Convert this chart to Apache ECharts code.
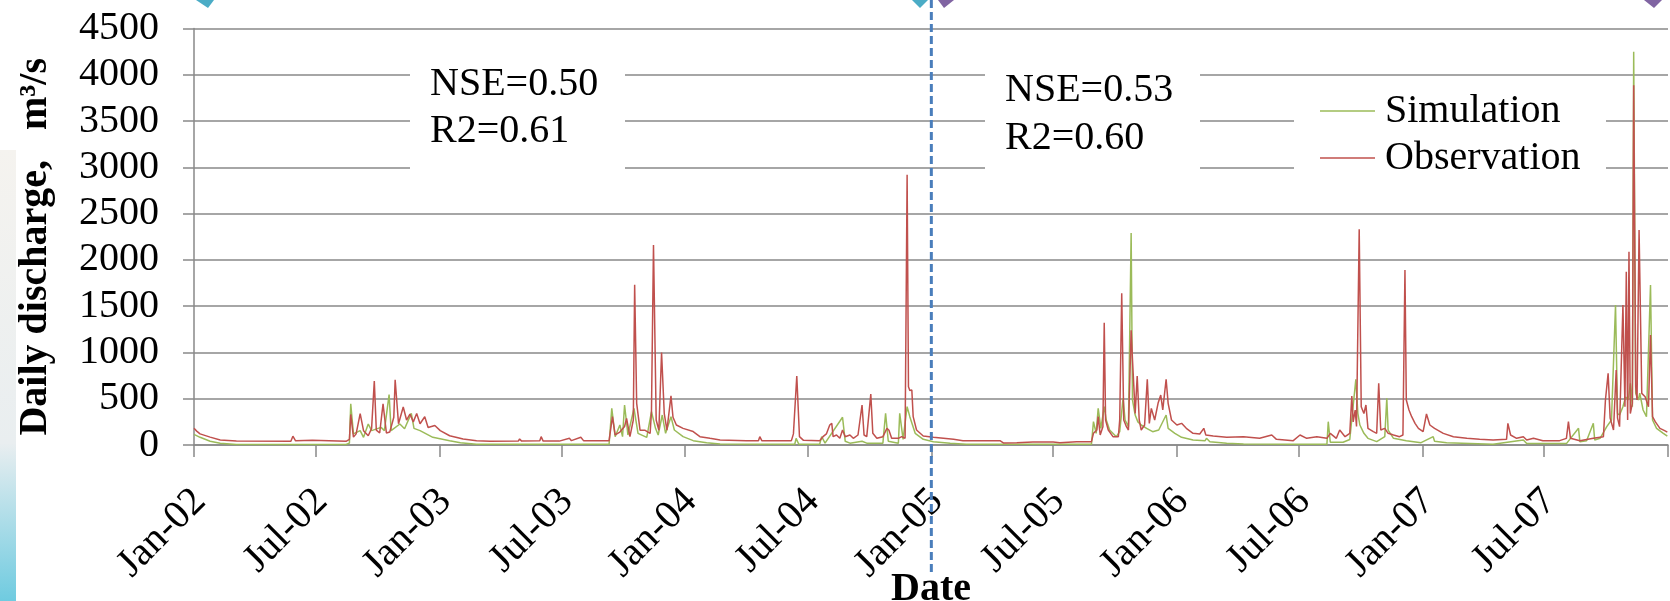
<!DOCTYPE html>
<html>
<head>
<meta charset="utf-8">
<title>Daily discharge</title>
<script src="https://cdn.jsdelivr.net/npm/echarts@6/dist/echarts.min.js"></script>
<style>
  html, body { margin: 0; padding: 0; background: #fff; }
  #chart { width: 1670px; height: 601px; }
</style>
</head>
<body>
<div id="chart"></div>
<script>
var obs2002 = [
  ['2002-01-01', 180], ['2002-01-05', 150], ['2002-01-10', 120], ['2002-01-25', 85], ['2002-02-09', 55],
  ['2002-03-05', 42], ['2002-05-25', 40], ['2002-05-28', 95], ['2002-06-01', 45], ['2002-06-26', 50],
  ['2002-06-28', 40], ['2002-08-15', 40], ['2002-08-20', 60], ['2002-08-22', 330], ['2002-08-26', 85],
  ['2002-08-30', 120], ['2002-09-05', 340], ['2002-09-10', 155], ['2002-09-17', 100], ['2002-09-22', 180],
  ['2002-09-26', 690], ['2002-09-29', 160], ['2002-10-04', 130], ['2002-10-09', 445], ['2002-10-14', 130],
  ['2002-10-19', 140], ['2002-10-25', 300], ['2002-10-27', 705], ['2002-11-01', 230], ['2002-11-08', 410],
  ['2002-11-13', 270], ['2002-11-18', 335], ['2002-11-23', 250], ['2002-11-28', 340], ['2002-12-03', 230],
  ['2002-12-10', 305], ['2002-12-15', 190], ['2002-12-25', 210]
];
var obs2003 = [
  ['2003-01-02', 155], ['2003-01-16', 100], ['2003-02-05', 65], ['2003-02-25', 47], ['2003-03-17', 40],
  ['2003-04-28', 42], ['2003-04-30', 65], ['2003-05-03', 42], ['2003-05-30', 45], ['2003-06-01', 90],
  ['2003-06-04', 42], ['2003-06-28', 42], ['2003-07-13', 72], ['2003-07-16', 47], ['2003-07-30', 83],
  ['2003-08-03', 47], ['2003-09-10', 47], ['2003-09-15', 306], ['2003-09-19', 110], ['2003-09-26', 140],
  ['2003-10-03', 200], ['2003-10-06', 288], ['2003-10-11', 90], ['2003-10-16', 270], ['2003-10-18', 1730],
  ['2003-10-21', 450], ['2003-10-26', 160], ['2003-11-02', 160], ['2003-11-10', 125], ['2003-11-12', 360],
  ['2003-11-15', 2160], ['2003-11-19', 270], ['2003-11-23', 160], ['2003-11-27', 1000], ['2003-12-01', 340],
  ['2003-12-05', 160], ['2003-12-11', 530], ['2003-12-14', 300], ['2003-12-19', 216], ['2003-12-29', 180]
];
var obs2004 = [
  ['2004-01-13', 145], ['2004-01-23', 90], ['2004-02-07', 72], ['2004-02-22', 55], ['2004-04-01', 47],
  ['2004-04-19', 47], ['2004-04-21', 90], ['2004-04-24', 47], ['2004-06-07', 47], ['2004-06-10', 120],
  ['2004-06-15', 745], ['2004-06-19', 90], ['2004-06-25', 50], ['2004-07-19', 47], ['2004-07-24', 90],
  ['2004-07-29', 120], ['2004-08-03', 216], ['2004-08-06', 234], ['2004-08-08', 90], ['2004-08-13', 108],
  ['2004-08-18', 72], ['2004-08-22', 162], ['2004-08-26', 90], ['2004-09-02', 108], ['2004-09-07', 72],
  ['2004-09-14', 108], ['2004-09-20', 432], ['2004-09-23', 108], ['2004-09-27', 90], ['2004-10-03', 550],
  ['2004-10-06', 126], ['2004-10-12', 72], ['2004-10-21', 90], ['2004-10-27', 180], ['2004-10-30', 160],
  ['2004-11-03', 72], ['2004-11-13', 72], ['2004-11-18', 90], ['2004-11-23', 72], ['2004-11-26', 2920],
  ['2004-11-28', 630], ['2004-11-30', 590], ['2004-12-03', 594], ['2004-12-05', 306], ['2004-12-10', 162],
  ['2004-12-20', 97]
];
var obs2005 = [
  ['2005-01-04', 83], ['2005-01-19', 72], ['2005-02-03', 61], ['2005-02-17', 47], ['2005-04-13', 47],
  ['2005-04-18', 22], ['2005-05-08', 25], ['2005-06-01', 32], ['2005-07-01', 32], ['2005-07-11', 25],
  ['2005-08-05', 36], ['2005-08-27', 36], ['2005-08-30', 126], ['2005-09-04', 162], ['2005-09-06', 306],
  ['2005-09-09', 108], ['2005-09-13', 198], ['2005-09-15', 1320], ['2005-09-17', 270], ['2005-09-21', 162],
  ['2005-09-28', 90], ['2005-10-06', 90], ['2005-10-08', 270], ['2005-10-11', 1640], ['2005-10-14', 270],
  ['2005-10-18', 198], ['2005-10-21', 162], ['2005-10-25', 1240], ['2005-10-27', 920], ['2005-10-31', 342],
  ['2005-11-03', 745], ['2005-11-06', 270], ['2005-11-09', 162], ['2005-11-14', 216], ['2005-11-18', 710],
  ['2005-11-21', 234], ['2005-11-24', 396], ['2005-11-29', 270], ['2005-12-04', 450], ['2005-12-08', 540],
  ['2005-12-11', 380], ['2005-12-16', 710], ['2005-12-19', 450], ['2005-12-24', 270]
];
var obs2006 = [
  ['2006-01-01', 216], ['2006-01-08', 234], ['2006-01-15', 180], ['2006-01-25', 126], ['2006-02-04', 119],
  ['2006-02-10', 180], ['2006-02-13', 108], ['2006-02-24', 97], ['2006-03-16', 83], ['2006-04-10', 90],
  ['2006-05-04', 72], ['2006-05-22', 108], ['2006-05-29', 61], ['2006-06-23', 47], ['2006-07-03', 108],
  ['2006-07-13', 72], ['2006-07-28', 90], ['2006-08-12', 72], ['2006-08-17', 126], ['2006-08-26', 72],
  ['2006-08-31', 162], ['2006-09-08', 90], ['2006-09-15', 126], ['2006-09-18', 529], ['2006-09-20', 250],
  ['2006-09-23', 378], ['2006-09-25', 200], ['2006-09-29', 2330], ['2006-10-02', 414], ['2006-10-06', 340],
  ['2006-10-09', 432], ['2006-10-12', 180], ['2006-10-20', 144], ['2006-10-25', 126], ['2006-10-28', 666],
  ['2006-10-31', 162], ['2006-11-06', 180], ['2006-11-11', 126], ['2006-11-19', 108], ['2006-11-28', 90],
  ['2006-12-03', 108], ['2006-12-06', 1890], ['2006-12-08', 486], ['2006-12-12', 378], ['2006-12-16', 306],
  ['2006-12-21', 234], ['2006-12-26', 180]
];
var obs2007 = [
  ['2007-01-02', 144], ['2007-01-07', 335], ['2007-01-12', 216], ['2007-01-19', 180], ['2007-02-01', 126],
  ['2007-02-16', 90], ['2007-03-08', 72], ['2007-03-27', 61], ['2007-04-16', 54], ['2007-05-06', 61],
  ['2007-05-08', 234], ['2007-05-12', 108], ['2007-05-21', 72], ['2007-05-31', 90], ['2007-06-05', 54],
  ['2007-06-15', 72], ['2007-06-29', 47], ['2007-07-24', 47], ['2007-08-03', 72], ['2007-08-06', 252],
  ['2007-08-09', 72], ['2007-08-23', 47], ['2007-09-12', 72], ['2007-09-27', 90], ['2007-09-30', 486],
  ['2007-10-04', 774], ['2007-10-07', 290], ['2007-10-12', 162], ['2007-10-16', 810], ['2007-10-18', 290],
  ['2007-10-21', 198], ['2007-10-26', 1512], ['2007-10-29', 414], ['2007-10-31', 1872], ['2007-11-02', 270],
  ['2007-11-04', 2088], ['2007-11-06', 340], ['2007-11-09', 450], ['2007-11-11', 3888], ['2007-11-14', 630],
  ['2007-11-16', 486], ['2007-11-19', 2322], ['2007-11-23', 558], ['2007-11-28', 522], ['2007-12-03', 414],
  ['2007-12-06', 1188], ['2007-12-09', 306], ['2007-12-13', 252], ['2007-12-20', 180], ['2007-12-27', 155],
  ['2007-12-31', 140]
];

// simulated daily discharge (m3/s)
var sim2002 = [
  ['2002-01-01', 115], ['2002-01-10', 83], ['2002-01-25', 40], ['2002-02-09', 18], ['2002-03-05', 6],
  ['2002-08-15', 5], ['2002-08-20', 20], ['2002-08-22', 445], ['2002-08-26', 120], ['2002-09-05', 155],
  ['2002-09-10', 83], ['2002-09-17', 227], ['2002-09-22', 155], ['2002-10-06', 190], ['2002-10-11', 155],
  ['2002-10-18', 545], ['2002-10-21', 155], ['2002-11-03', 227], ['2002-11-10', 175], ['2002-11-20', 342],
  ['2002-11-24', 180], ['2002-12-03', 155], ['2002-12-22', 83]
];
var sim2003 = [
  ['2003-01-16', 47], ['2003-02-01', 25], ['2003-02-25', 8], ['2003-09-10', 8], ['2003-09-14', 396],
  ['2003-09-19', 90], ['2003-09-26', 216], ['2003-09-30', 90], ['2003-10-03', 432], ['2003-10-08', 108],
  ['2003-10-17', 396], ['2003-10-23', 126], ['2003-11-05', 83], ['2003-11-12', 360], ['2003-11-18', 180],
  ['2003-11-22', 108], ['2003-11-28', 324], ['2003-12-03', 126], ['2003-12-11', 306], ['2003-12-16', 162],
  ['2003-12-29', 90]
];
var sim2004 = [
  ['2004-01-13', 47], ['2004-02-02', 25], ['2004-02-22', 10], ['2004-06-12', 8], ['2004-06-14', 72],
  ['2004-06-18', 8], ['2004-07-19', 8], ['2004-07-22', 90], ['2004-07-27', 20], ['2004-08-22', 300],
  ['2004-08-26', 40], ['2004-09-02', 20], ['2004-09-20', 40], ['2004-09-27', 20], ['2004-10-21', 20],
  ['2004-10-25', 342], ['2004-10-29', 40], ['2004-11-13', 20], ['2004-11-15', 342], ['2004-11-20', 60],
  ['2004-11-26', 414], ['2004-11-30', 306], ['2004-12-08', 126], ['2004-12-20', 61]
];
var sim2005 = [
  ['2005-01-04', 36], ['2005-01-29', 18], ['2005-02-22', 7], ['2005-08-27', 7], ['2005-08-30', 252],
  ['2005-09-03', 126], ['2005-09-06', 396], ['2005-09-10', 180], ['2005-09-15', 414], ['2005-09-18', 270],
  ['2005-09-23', 162], ['2005-10-03', 90], ['2005-10-08', 144], ['2005-10-13', 504], ['2005-10-16', 270],
  ['2005-10-21', 198], ['2005-10-25', 2290], ['2005-10-27', 486], ['2005-10-31', 324], ['2005-11-04', 250],
  ['2005-11-09', 216], ['2005-11-17', 180], ['2005-11-26', 144], ['2005-12-05', 162], ['2005-12-16', 324],
  ['2005-12-19', 180], ['2005-12-29', 126]
];
var sim2006 = [
  ['2006-01-08', 83], ['2006-01-25', 54], ['2006-02-12', 47], ['2006-02-14', 72], ['2006-02-19', 36],
  ['2006-03-16', 18], ['2006-04-10', 10], ['2006-06-23', 7], ['2006-08-12', 7], ['2006-08-14', 252],
  ['2006-08-17', 30], ['2006-09-05', 30], ['2006-09-15', 60], ['2006-09-24', 710], ['2006-09-27', 342],
  ['2006-09-30', 216], ['2006-10-06', 126], ['2006-10-12', 72], ['2006-10-25', 36], ['2006-11-06', 90],
  ['2006-11-09', 504], ['2006-11-11', 160], ['2006-11-19', 72], ['2006-12-08', 47], ['2006-12-30', 25]
];
var sim2007 = [
  ['2007-01-17', 90], ['2007-01-19', 40], ['2007-02-06', 25], ['2007-04-16', 7], ['2007-05-31', 54],
  ['2007-06-05', 15], ['2007-08-03', 15], ['2007-08-21', 180], ['2007-08-23', 36], ['2007-09-02', 47],
  ['2007-09-12', 234], ['2007-09-14', 54], ['2007-09-22', 72], ['2007-10-02', 198], ['2007-10-09', 270],
  ['2007-10-15', 1512], ['2007-10-18', 340], ['2007-10-21', 324], ['2007-10-26', 414], ['2007-10-30', 520],
  ['2007-11-03', 486], ['2007-11-06', 666], ['2007-11-09', 414], ['2007-11-11', 4250], ['2007-11-14', 560],
  ['2007-11-18', 486], ['2007-11-20', 560], ['2007-11-25', 378], ['2007-11-30', 306], ['2007-12-06', 1728],
  ['2007-12-09', 270], ['2007-12-15', 180], ['2007-12-25', 126], ['2007-12-31', 95]
];

var tickDates = ['2002-01-01', '2002-07-01', '2003-01-01', '2003-07-01', '2004-01-01', '2004-07-01',
  '2005-01-01', '2005-07-01', '2006-01-01', '2006-07-01', '2007-01-01', '2007-07-01', '2008-01-01'];
var labelDates = tickDates.slice(0, 12);
var splitDate = '2005-01-01';
var calibStats = ['NSE=0.50', 'R2=0.61'];
var validStats = ['NSE=0.53', 'R2=0.60'];

var MONTHS = ['Jan', 'Feb', 'Mar', 'Apr', 'May', 'Jun', 'Jul', 'Aug', 'Sep', 'Oct', 'Nov', 'Dec'];
var FONT = '"Liberation Serif", "Times New Roman", serif';
var GRID_GRAY = '#898989';

function toTime(s) {
  var p = s.split('-');
  return new Date(+p[0], +p[1] - 1, +p[2]).getTime();
}
function toPoint(d) { return [toTime(d[0]), d[1]]; }

var observation = obs2002.concat(obs2003, obs2004, obs2005, obs2006, obs2007);
var simulation = sim2002.concat(sim2003, sim2004, sim2005, sim2006, sim2007);

var myChart = echarts.init(document.getElementById('chart'));

myChart.setOption({
  animation: false,
  backgroundColor: '#fff',
  grid: {
    left: 194,
    right: 2,
    top: 28.5,
    bottom: 156,
    outerBoundsMode: 'none'
  },
  legend: {
    data: ['Simulation', 'Observation'],
    orient: 'vertical',
    left: 1315,
    top: 86,
    icon: 'rect',
    itemWidth: 55,
    itemHeight: 1.5,
    itemGap: 7,
    textStyle: {
      fontFamily: FONT,
      fontSize: 40,
      color: '#000',
      padding: [0, 0, 0, 5]
    }
  },
  xAxis: {
    // dates as millisecond values; ticks at the 1st of Jan and Jul
    type: 'value',
    min: toTime('2002-01-01'),
    max: toTime('2008-01-01'),
    name: 'Date',
    nameLocation: 'middle',
    nameGap: 125,
    nameMoveOverlap: false,
    nameTextStyle: {
      fontFamily: FONT,
      fontSize: 40,
      fontWeight: 'bold',
      color: '#000'
    },
    axisLine: {
      lineStyle: { color: GRID_GRAY, width: 1.5 }
    },
    axisTick: {
      show: true,
      length: 12,
      customValues: tickDates.map(toTime),
      lineStyle: { color: GRID_GRAY, width: 1.5 }
    },
    axisLabel: {
      rotate: 45,
      margin: 56,
      padding: [0, -8, 0, 0],
      customValues: labelDates.map(toTime),
      fontFamily: FONT,
      fontSize: 40,
      color: '#000',
      formatter: function (val) {
        var d = new Date(val);
        return MONTHS[d.getMonth()] + '-' + String(d.getFullYear()).slice(2);
      }
    },
    splitLine: { show: false }
  },
  yAxis: {
    type: 'value',
    min: 0,
    max: 4500,
    interval: 500,
    name: 'Daily discharge,   m\u00b3/s',
    nameLocation: 'middle',
    nameGap: 138,
    nameMoveOverlap: false,
    nameTextStyle: {
      fontFamily: FONT,
      fontSize: 40,
      fontWeight: 'bold',
      color: '#000',
      padding: [0, 20, 0, 0]
    },
    axisLine: {
      show: true,
      lineStyle: { color: GRID_GRAY, width: 1.5 }
    },
    axisTick: {
      show: true,
      length: 11,
      lineStyle: { color: GRID_GRAY, width: 1.5 }
    },
    axisLabel: {
      margin: 35,
      fontFamily: FONT,
      fontSize: 40,
      color: '#000',
      formatter: function (val) { return String(val); }
    },
    splitLine: {
      lineStyle: { color: GRID_GRAY, width: 1.5 }
    }
  },
  series: [
    {
      name: 'Simulation',
      type: 'line',
      symbol: 'none',
      showSymbol: false,
      itemStyle: { color: '#9BBB59' },
      lineStyle: { color: '#9BBB59', width: 1.5 },
      data: simulation.map(toPoint)
    },
    {
      name: 'Observation',
      type: 'line',
      symbol: 'none',
      showSymbol: false,
      itemStyle: { color: '#C0504D' },
      lineStyle: { color: '#C0504D', width: 1.5 },
      data: observation.map(toPoint)
    }
  ]
});

// boxes, statistics text and the calibration / validation split line
var splitX = myChart.convertToPixel({ xAxisIndex: 0 }, toTime(splitDate));
var textFont = '40px ' + FONT;

myChart.setOption({
  graphic: [
    // slide background peeking in at the left edge
    {
      type: 'rect', z: 0,
      shape: { x: 0, y: 150, width: 16, height: 451 },
      style: {
        fill: new echarts.graphic.LinearGradient(0, 0, 0, 1, [
          { offset: 0, color: '#f5f3ef' },
          { offset: 0.65, color: '#e9eef0' },
          { offset: 1, color: '#6fcbe0' }
        ])
      }
    },
    { type: 'rect', z: 1, shape: { x: 410, y: 45, width: 215, height: 145 }, style: { fill: '#fff' } },
    { type: 'rect', z: 1, shape: { x: 985, y: 45, width: 215, height: 145 }, style: { fill: '#fff' } },
    { type: 'rect', z: 1, shape: { x: 1294, y: 80, width: 312, height: 110 }, style: { fill: '#fff' } },
    { type: 'text', z: 10, style: { x: 430, y: 84, text: calibStats[0], font: textFont, fill: '#000', verticalAlign: 'middle' } },
    { type: 'text', z: 10, style: { x: 430, y: 131, text: calibStats[1], font: textFont, fill: '#000', verticalAlign: 'middle' } },
    { type: 'text', z: 10, style: { x: 1005, y: 90, text: validStats[0], font: textFont, fill: '#000', verticalAlign: 'middle' } },
    { type: 'text', z: 10, style: { x: 1005, y: 138, text: validStats[1], font: textFont, fill: '#000', verticalAlign: 'middle' } },
    {
      type: 'line', z: 20,
      shape: { x1: splitX, y1: 0, x2: splitX, y2: 572 },
      style: { stroke: '#4A7EBB', lineWidth: 3, lineDash: [8, 4] }
    },
    // arrow heads of the period arrows, mostly cut off at the top
    { type: 'polygon', z: 20, shape: { points: [[196, 0], [214, 0], [208, 8]] }, style: { fill: '#4BACC6' } },
    { type: 'polygon', z: 20, shape: { points: [[912, 0], [928, 0], [920, 8]] }, style: { fill: '#4BACC6' } },
    { type: 'polygon', z: 20, shape: { points: [[938, 0], [954, 0], [944, 8]] }, style: { fill: '#8064A2' } },
    { type: 'polygon', z: 20, shape: { points: [[1644, 0], [1662, 0], [1654, 8]] }, style: { fill: '#8064A2' } }
  ]
});
</script>
</body>
</html>
